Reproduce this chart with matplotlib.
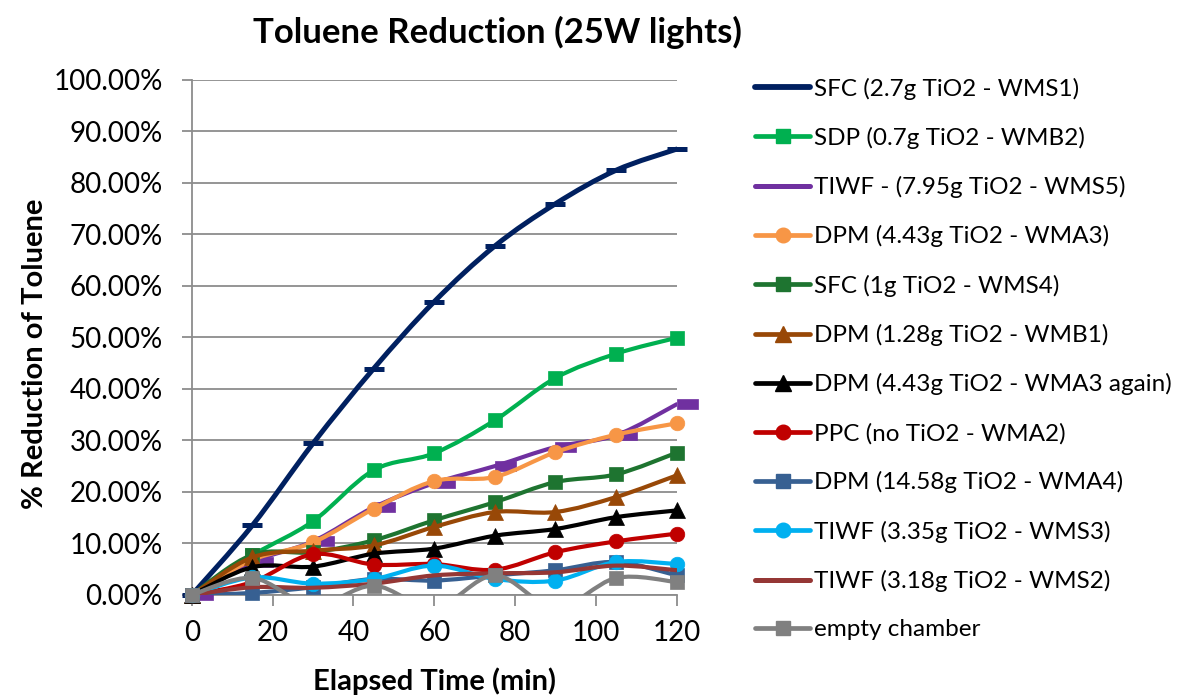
"""
Toluene reduction under 25W lights, smoothed Excel-style curves
"""
import numpy as np
import matplotlib
matplotlib.use("Agg")
import matplotlib.pyplot as plt
from matplotlib.path import Path
from matplotlib.patches import PathPatch
from matplotlib.lines import Line2D
from matplotlib.ticker import FuncFormatter

plt.rcParams['font.family'] = ['Lato', 'DejaVu Sans']

minutes = [0, 15, 30, 45, 60, 75, 90, 105, 120]

sfc_wms1 = [0, 13.5, 29.4, 43.9, 56.9, 67.7, 75.9, 82.4, 86.5]
sdp_wmb2 = [0, 7.7, 14.3, 24.2, 27.5, 33.9, 42.1, 46.8, 49.9]
tiwf_wms5 = [0, 6.4, 10.4, 17.0, 21.7, 25.0, 28.7, 31.0, 37.0]
dpm_wma3 = [0, 6.8, 10.2, 16.7, 22.1, 22.9, 27.7, 31.1, 33.3]
sfc_wms4 = [0, 7.8, 8.3, 10.6, 14.5, 18.0, 21.9, 23.4, 27.6]
dpm_wmb1 = [0, 7.3, 8.6, 9.6, 13.2, 16.1, 16.1, 19.0, 23.2]
dpm_wma3_again = [0, 5.4, 5.5, 8.0, 9.0, 11.5, 12.8, 15.1, 16.4]
ppc_wma2 = [0, 2.5, 7.9, 5.9, 6.0, 4.9, 8.3, 10.4, 11.9]
dpm_wma4 = [0, 0.4, 1.5, 3.1, 2.8, 3.8, 4.8, 6.4, 3.8]
tiwf_wms3 = [0, 3.4, 2.2, 3.1, 5.7, 3.1, 2.8, 6.4, 6.0]
tiwf_wms2 = [0, 1.5, 1.4, 2.2, 3.8, 4.2, 4.4, 5.7, 4.8]
empty_chamber = [0, 3.3, -2.0, 1.8, -2.5, 3.8, -2.5, 3.3, 2.5]

labels = [
    'SFC (2.7g TiO2 - WMS1)',
    'SDP (0.7g TiO2 - WMB2)',
    'TIWF - (7.95g TiO2 - WMS5)',
    'DPM (4.43g TiO2 - WMA3)',
    'SFC (1g TiO2 - WMS4)',
    'DPM (1.28g TiO2 - WMB1)',
    'DPM (4.43g TiO2 - WMA3 again)',
    'PPC (no TiO2 - WMA2)',
    'DPM (14.58g TiO2 - WMA4)',
    'TIWF (3.35g TiO2 - WMS3)',
    'TIWF (3.18g TiO2 - WMS2)',
    'empty chamber',
]
series = [sfc_wms1, sdp_wmb2, tiwf_wms5, dpm_wma3, sfc_wms4, dpm_wmb1,
          dpm_wma3_again, ppc_wma2, dpm_wma4, tiwf_wms3, tiwf_wms2, empty_chamber]

# wide flat marker sitting to the right of the point
flat_bar = Path([(0, -0.22), (1, -0.22), (1, 0.22), (0, 0.22), (0, -0.22)],
                [Path.MOVETO, Path.LINETO, Path.LINETO, Path.LINETO, Path.CLOSEPOLY])

# colour, marker, marker size, line width
styles = [
    ('#002060', '_', 15, 3.6),
    ('#00B050', 's', 10, 3.0),
    ('#7030A0', flat_bar, 30, 3.0),
    ('#F79646', 'o', 10.5, 3.0),
    ('#1E7430', 's', 10, 3.0),
    ('#984807', '^', 12, 3.0),
    ('#000000', '^', 12, 3.0),
    ('#C00000', 'o', 10.5, 3.0),
    ('#376092', 's', 10, 3.0),
    ('#00B0F0', 'o', 10.5, 3.0),
    ('#953735', None, 0, 3.0),
    ('#808080', 's', 10, 3.0),
]


def smooth_path(xs, ys):
    """Bezier path through the points, control points like Excel's smoothed line."""
    pts = np.column_stack([xs, ys]).astype(float)
    padded = np.vstack([pts[0], pts, pts[-1]])
    verts = [pts[0]]
    codes = [Path.MOVETO]
    for i in range(1, len(padded) - 2):
        p0, p1, p2, p3 = padded[i - 1], padded[i], padded[i + 1], padded[i + 2]
        verts += [p1 + (p2 - p0) / 6.0, p2 - (p3 - p1) / 6.0, p2]
        codes += [Path.CURVE4] * 3
    return Path(verts, codes)


fig = plt.figure(figsize=(11.85, 6.98), dpi=100)
ax = fig.add_axes([0.1618, 0.1476, 0.4093, 0.7385])

handles = []
for k, (vals, (color, marker, ms, lw)) in enumerate(zip(series, styles)):
    y = np.array(vals) / 100.0
    patch = PathPatch(smooth_path(minutes, y), facecolor='none', edgecolor=color,
                      lw=lw, transform=ax.transData, zorder=3 + 2 * k,
                      capstyle='round', joinstyle='round')
    ax.add_patch(patch)
    if marker is not None:
        shown = y >= 0
        mew = 3.6 if marker == '_' else 0.5
        ax.plot(np.array(minutes)[shown], y[shown], linestyle='none', marker=marker,
                ms=ms, color=color, mec=color, mew=mew, clip_on=False, zorder=4 + 2 * k)
    if marker in ('s', 'o', '^'):
        handles.append(Line2D([], [], color=color, lw=lw + 0.4, marker=marker,
                              ms=ms, mec=color, solid_capstyle='round'))
    else:
        handles.append(Line2D([], [], color=color, lw=lw + 0.6, solid_capstyle='round'))

ax.set_xlim(0, 120)
ax.set_ylim(0, 1.0)
ax.set_xticks(range(0, 121, 20))
ax.set_yticks(np.arange(0, 1.01, 0.1))
ax.yaxis.set_major_formatter(FuncFormatter(lambda v, _: f'{v * 100:.2f}%'))
ax.grid(axis='y', color='#8c8c8c', lw=1.3)
ax.set_axisbelow(True)
for side in ('top', 'right'):
    ax.spines[side].set_visible(False)
for side in ('left', 'bottom'):
    ax.spines[side].set_color('#8c8c8c')
    ax.spines[side].set_linewidth(1.3)
ax.tick_params(axis='both', direction='out', width=1.3, color='#8c8c8c', labelsize=20)
ax.tick_params(axis='y', length=7, pad=14)
ax.tick_params(axis='x', length=8, pad=10)

fig.text(497 / 1185, 1 - 32 / 698, 'Toluene Reduction (25W lights)', fontsize=25,
         fontweight='bold', ha='center', va='center')
ax.set_xlabel('Elapsed Time (min)', fontsize=21, fontweight='bold')
ax.xaxis.set_label_coords(0.5, -0.14)
ax.set_ylabel('% Reduction of Toluene', fontsize=21, fontweight='bold')
ax.yaxis.set_label_coords(-0.296, 0.467)

fig.legend(handles, labels, loc='upper left', bbox_to_anchor=(0.629, 0.903),
           frameon=False, fontsize=17.5, handlelength=2.26, handletextpad=0.17,
           labelspacing=1.12, borderaxespad=0)

fig.savefig('out.png', dpi=100)
